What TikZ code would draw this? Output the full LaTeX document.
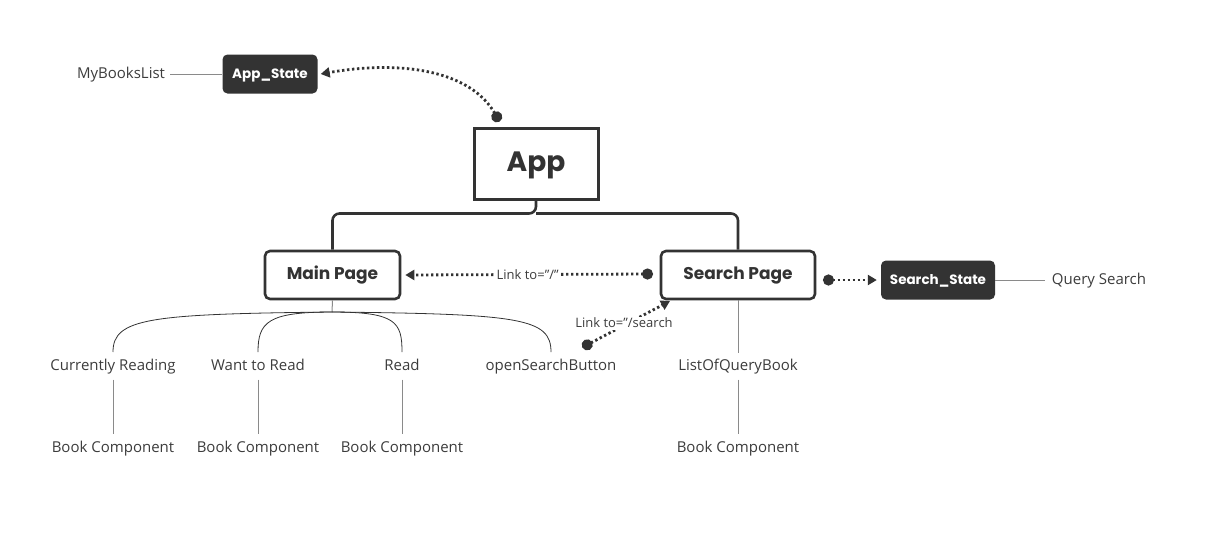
\documentclass[tikz,border=0pt]{standalone}
\usepackage{fontspec}
\setmainfont{Open Sans}
\newfontfamily\titlefont{Poppins}
\usetikzlibrary{arrows.meta}
\definecolor{ink}{HTML}{333333}
\definecolor{txt}{HTML}{3C3C3C}
\definecolor{gline}{HTML}{8A8A8A}
\tikzset{
  x=1pt,y=-1pt,
  pagebox/.style={draw=ink,line width=2.6pt,rounded corners=5pt,fill=white,inner sep=0pt,font=\titlefont\fontsize{17}{19}\selectfont\bfseries,text=ink},
  statebox/.style={fill=ink,rounded corners=5pt,inner sep=0pt,text=white,font=\titlefont\fontsize{13.5}{15}\selectfont\bfseries,text height=11pt,text depth=2pt},
  lbl/.style={inner sep=1pt,text=txt,font=\fontsize{15}{17}\selectfont,text height=12pt,text depth=3pt},
  linklbl/.style={fill=white,inner sep=1.5pt,text=txt,font=\fontsize{13}{15}\selectfont},
  dotlink/.style={draw=ink,line width=2.8pt,dash pattern=on 2.4pt off 2.6pt,{Circle[length=11pt]}-{Triangle[length=9pt,width=10pt]},shorten <=-3pt},
  thin/.style={draw=gline,line width=1pt},
  tree/.style={draw=ink,line width=0.8pt},
}
\begin{document}
\begin{tikzpicture}
\useasboundingbox (0,0) rectangle (1207,555);
% nodes
\node[statebox,minimum width=95pt,minimum height=39pt] (appstate) at (270,74) {App\_State};
\node[lbl] (mybooks) at (121,74) {MyBooksList};
\node[draw=ink,line width=3pt,fill=white,minimum width=124pt,minimum height=71pt,inner sep=0pt,font=\titlefont\fontsize{28}{30}\selectfont\bfseries,text=ink,text height=20pt,text depth=4pt] (app) at (536,163.5) {App};
\node[pagebox,minimum width=135pt,minimum height=48pt,text height=12pt,text depth=3pt] (main) at (332.5,275) {Main Page};
\node[pagebox,minimum width=154pt,minimum height=48pt,text height=12pt,text depth=3pt] (search) at (738,275) {Search Page};
\node[statebox,minimum width=114pt,minimum height=39pt] (searchstate) at (938,280) {Search\_State};
\node[lbl] (query) at (1099,280) {Query Search};
\node[lbl] (cr) at (113,366) {Currently Reading};
\node[lbl] (wtr) at (258,366) {Want to Read};
\node[lbl] (rd) at (402,366) {Read};
\node[lbl] (osb) at (551,366) {openSearchButton};
\node[lbl] (lqb) at (738,366) {ListOfQueryBook};
\node[lbl] (bc1) at (113,448) {Book Component};
\node[lbl] (bc2) at (258,448) {Book Component};
\node[lbl] (bc3) at (402,448) {Book Component};
\node[lbl] (bc4) at (738,448) {Book Component};
% coordinates
\coordinate (appdot) at (498,119);
\coordinate (sdot) at (650,274);
\coordinate (osbdot) at (585,346);
\coordinate (mfork) at (332,312);
% thin connectors
\draw[thin] (170,74) -- (appstate.west);
\draw[thin] (searchstate.east) -- (1045,280);
\draw[thin] (search.south) -- (738,353);
\foreach \a/\b in {cr/bc1,wtr/bc2,rd/bc3,lqb/bc4}
  \draw[thin] ([yshift=-5pt]\a.south) -- ([yshift=5pt]\b.north);
% tree from app
\draw[draw=ink,line width=2.6pt,rounded corners=7pt] (app.south) -- ++(0,13) -| (main.north);
\draw[draw=ink,line width=2.6pt,rounded corners=7pt] (app.south) ++(0,13) -| (search.north);
% main page fork
\draw[gline,line width=1pt] (main.south) -- (mfork);
\draw[tree] (mfork) .. controls (150,314) and (113,318) .. (113,352);
\draw[tree] (mfork) .. controls (268,312) and (258,322) .. (258,352);
\draw[tree] (mfork) .. controls (396,312) and (402,322) .. (402,352);
\draw[tree] (mfork) .. controls (520,314) and (551,318) .. (551,352);
% dotted links
\draw[dotlink] (appdot) .. controls (470,70) and (400,60) .. ([xshift=3pt]appstate.east);
\draw[dotlink] (sdot) -- node[linklbl]{Link to="/"} ([xshift=4pt]main.east);
\draw[dotlink] (osbdot) -- (670,301);
\node[linklbl,fill=white] (lsearch) at (624,323) {Link to="/search};
\draw[dotlink] (826,280) -- ([xshift=-4pt]searchstate.west);
\end{tikzpicture}
\end{document}
